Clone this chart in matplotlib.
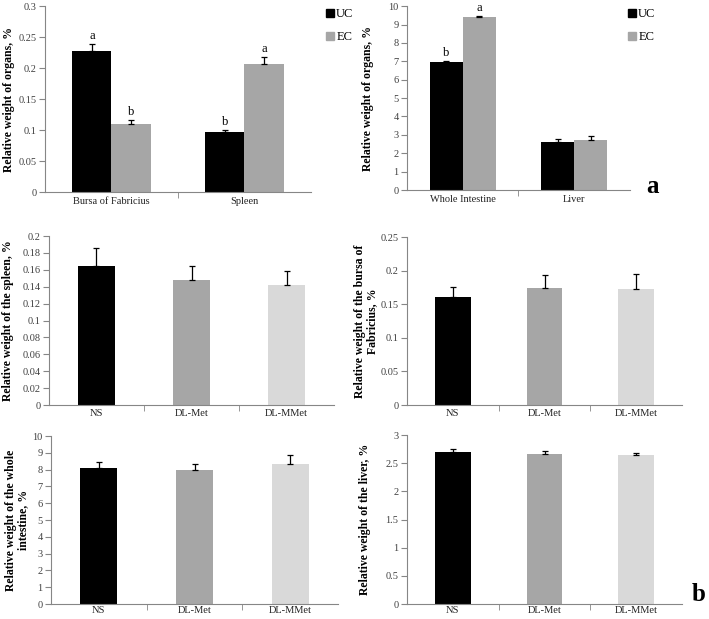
import matplotlib
matplotlib.use("Agg")
import matplotlib.pyplot as plt
from matplotlib.patches import Patch
import numpy as np

plt.rcParams['font.family'] = ['Liberation Serif', 'DejaVu Serif']

# ---- panel a data ----
organs_a1 = ["Bursa of Fabricius", "Spleen"]
uc_a1 = [0.227, 0.096]
uc_a1_err = [0.012, 0.004]
ec_a1 = [0.109, 0.206]
ec_a1_err = [0.007, 0.012]
uc_a1_sig = ["a", "b"]
ec_a1_sig = ["b", "a"]

organs_a2 = ["Whole Intestine", "Liver"]
uc_a2 = [6.95, 2.62]
uc_a2_err = [0.05, 0.13]
ec_a2 = [9.42, 2.70]
ec_a2_err = [0.05, 0.22]
uc_a2_sig = ["b", ""]
ec_a2_sig = ["a", ""]

# ---- panel b data ----
groups = ["NS", "DL-Met", "DL-MMet"]
spleen = [0.165, 0.148, 0.142]
spleen_err = [0.021, 0.016, 0.017]
bursa = [0.160, 0.174, 0.172]
bursa_err = [0.015, 0.019, 0.023]
intestine = [8.12, 8.00, 8.35]
intestine_err = [0.35, 0.35, 0.50]
liver = [2.69, 2.66, 2.64]
liver_err = [0.06, 0.06, 0.04]

black = "#000000"
grey = "#a6a6a6"
light = "#d9d9d9"
axis_col = "#868686"
tick_col = "#404040"

fig = plt.figure(figsize=(7.09, 6.19), dpi=100)


def style_axes(ax, n, ymax, step, fmt, xpad):
    ax.set_xlim(-0.5, n - 0.5)
    ax.set_ylim(0, ymax)
    ticks = np.arange(0, ymax + step / 2, step)
    ax.set_yticks(ticks)
    ax.set_yticklabels([fmt(t) for t in ticks])
    for s in ["top", "right"]:
        ax.spines[s].set_visible(False)
    for s in ["left", "bottom"]:
        ax.spines[s].set_color(axis_col)
        ax.spines[s].set_linewidth(0.8)
    ax.tick_params(axis="y", direction="out", length=4, color=axis_col,
                   labelsize=7.5, labelcolor=tick_col, pad=2)
    ax.tick_params(axis="x", which="major", length=0, labelsize=7.5,
                   labelcolor="#222222", pad=xpad)
    ax.set_xticks(np.arange(n - 1) + 0.5, minor=True)
    ax.tick_params(axis="x", which="minor", direction="out", length=4,
                   color=axis_col)


def gfmt(v):
    return "0" if v == 0 else ("%g" % round(v, 4))


def up_err(e):
    return [np.zeros(len(e)), e]


ekw = dict(ecolor="black", elinewidth=0.9, capsize=2.5, capthick=0.9)


def pair_panel(rect, cats, uc, uce, ec, ece, ucs, ecs, ymax, step, ylabel,
               lab_x, leg_x):
    ax = fig.add_axes(rect)
    x = np.arange(len(cats))
    w = 0.295
    ax.bar(x - w / 2, uc, w, color=black, yerr=up_err(uce), error_kw=ekw)
    ax.bar(x + w / 2, ec, w, color=grey, yerr=up_err(ece), error_kw=ekw)
    for xs, vals, errs, sigs in [(x - w / 2, uc, uce, ucs), (x + w / 2, ec, ece, ecs)]:
        for xi, v, e, s in zip(xs, vals, errs, sigs):
            if s:
                ax.annotate(s, (xi, v + e), xytext=(0, 1.5), textcoords="offset points",
                            ha="center", va="bottom", fontsize=9)
    ax.set_xticks(x)
    ax.set_xticklabels(cats)
    style_axes(ax, len(cats), ymax, step, gfmt, 3.5)
    ax.set_ylabel(ylabel, fontsize=8.5, fontweight="bold")
    ax.yaxis.set_label_coords(lab_x, rect[1] + rect[3] / 2, transform=fig.transFigure)
    ax.yaxis.label.set_va("center")
    handles = [Patch(color=black, label="UC"), Patch(color=grey, label="EC")]
    ax.legend(handles=handles, loc="upper left", bbox_to_anchor=leg_x,
              bbox_transform=fig.transFigure, frameon=False, fontsize=9,
              handlelength=0.6, handleheight=0.6, handletextpad=0.2,
              labelspacing=0.9, borderaxespad=0)
    return ax


def single_panel(rect, vals, errs, ymax, step, ylabel, lab_x, xpad):
    ax = fig.add_axes(rect)
    x = np.arange(len(groups))
    ax.bar(x, vals, 0.39, color=[black, grey, light], yerr=up_err(errs), error_kw=ekw)
    ax.set_xticks(x)
    ax.set_xticklabels(groups)
    style_axes(ax, len(groups), ymax, step, gfmt, xpad)
    ax.set_ylabel(ylabel, fontsize=8.5, fontweight="bold", linespacing=1.0)
    ax.yaxis.set_label_coords(lab_x, rect[1] + rect[3] / 2, transform=fig.transFigure)
    ax.yaxis.label.set_va("center")
    return ax


pair_panel([0.0635, 0.6898, 0.375, 0.3005], organs_a1, uc_a1, uc_a1_err,
           ec_a1, ec_a1_err, uc_a1_sig, ec_a1_sig, 0.3, 0.05,
           "Relative weight of organs, %", 0.012, (0.453, 0.995))
pair_panel([0.574, 0.693, 0.3145, 0.297], organs_a2, uc_a2, uc_a2_err,
           ec_a2, ec_a2_err, uc_a2_sig, ec_a2_sig, 10, 1,
           "Relative weight of organs, %", 0.519, (0.879, 0.995))

single_panel([0.0691, 0.3457, 0.402, 0.273], spleen, spleen_err, 0.2, 0.02,
             "Relative weight of the spleen, %", 0.011, 3)
single_panel([0.574, 0.3457, 0.388, 0.2714], bursa, bursa_err, 0.25, 0.05,
             "Relative weight of the bursa of\nFabricius, %", 0.516, 3)
single_panel([0.0719, 0.0242, 0.405, 0.2714], intestine, intestine_err, 10, 1,
             "Relative weight of the whole\nintestine, %", 0.024, 1.5)
single_panel([0.574, 0.0242, 0.388, 0.273], liver, liver_err, 3, 0.5,
             "Relative weight of the liver, %", 0.515, 1.5)

fig.text(0.921, 0.698, "a", fontsize=18, fontweight="bold", ha="center", va="center")
fig.text(0.985, 0.04, "b", fontsize=18, fontweight="bold", ha="center", va="center")

fig.savefig("out.png", dpi=100)
